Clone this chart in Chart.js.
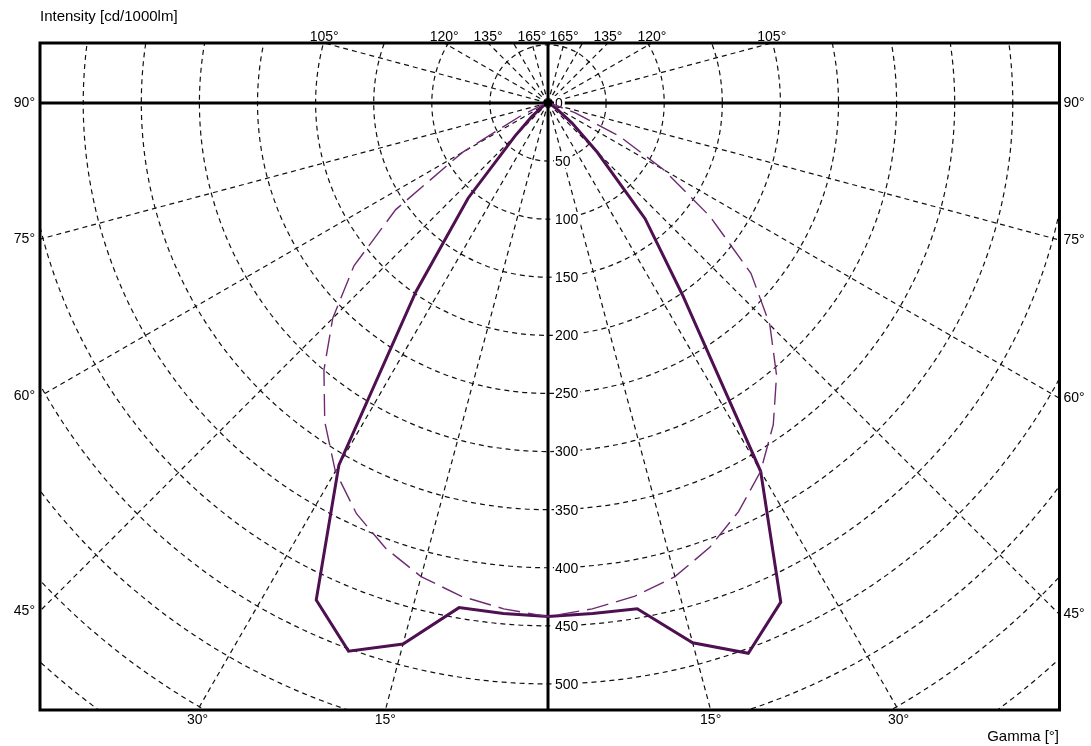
<!DOCTYPE html>
<html>
<head>
<meta charset="utf-8">
<script src="https://cdn.jsdelivr.net/npm/chart.js@4.4.1/dist/chart.umd.min.js"></script>
<style>
  html, body { margin: 0; padding: 0; background: #fff; }
  #wrap { width: 1091px; height: 746px; }
</style>
</head>
<body>
<div id="wrap"><canvas id="chart" width="1091" height="746"></canvas></div>
<script>
// Gamma angles (degrees from nadir) and intensities in cd/1000lm
const gammaAngles = [0, 5, 10, 15, 20, 25, 30, 35, 40, 45, 50, 55, 60, 65, 70, 75, 80, 85, 90];
const intensityC0 = [442, 441, 442, 481, 504, 474, 366, 202, 130, 60, 27, 10, 4, 1, 0, 0, 0, 0, 0];
const intensityC180 = [442, 441, 441, 482, 502, 472, 360, 198, 107, 40, 18, 7, 3, 1, 0, 0, 0, 0, 0];
const intensityC90 = [442, 437, 431, 422, 407, 388, 366, 338, 306, 270, 228, 170, 115, 68, 25, 5, 0, 0, 0];
const intensityC270 = [442, 437, 431, 422, 408, 390, 366, 335, 300, 262, 218, 160, 85, 25, 5, 0, 0, 0, 0];

// grid
const ringValues = [50, 100, 150, 200, 250, 300, 350, 400, 450, 500, 550, 600, 650, 700];
const ringLabels = ['0', '50', '100', '150', '200', '250', '300', '350', '400', '450', '500'];
const spokeAngles = [15, 30, 45, 60, 75, 105, 120, 135, 150, 165];
const sideAngles = [90, 75, 60, 45];
const bottomAngles = [30, 15];
const topAngles = [105, 120, 135, 165];

const rad = d => d * Math.PI / 180;
// side: +1 right half, -1 left half
const toXY = (g, r, side) => ({ x: side * r * Math.sin(rad(g)), y: -r * Math.cos(rad(g)) });

function halfCurve(leftVals, rightVals) {
  const pts = [];
  for (let i = gammaAngles.length - 1; i >= 0; i--) pts.push(toXY(gammaAngles[i], leftVals[i], -1));
  for (let i = 1; i < gammaAngles.length; i++) pts.push(toXY(gammaAngles[i], rightVals[i], 1));
  return pts;
}

const FONT = '14px "Liberation Sans", Arial, sans-serif';
const TITLE_FONT = '15px "Liberation Sans", Arial, sans-serif';

const polarGrid = {
  id: 'polarGrid',
  beforeDatasetsDraw(chart) {
    const { ctx, chartArea: a, scales: { x, y } } = chart;
    const cx = x.getPixelForValue(0), cy = y.getPixelForValue(0);
    const k = x.getPixelForValue(100) - cx;
    ctx.save();
    ctx.beginPath();
    ctx.rect(a.left, a.top, a.right - a.left, a.bottom - a.top);
    ctx.clip();
    ctx.strokeStyle = '#111';
    ctx.lineWidth = 1.2;
    ctx.setLineDash([5, 4]);
    ringValues.forEach(v => {
      ctx.beginPath();
      ctx.arc(cx, cy, v * k / 100, 0, Math.PI * 2);
      ctx.stroke();
    });
    const far = 1200;
    spokeAngles.forEach(g => {
      [-1, 1].forEach(s => {
        const p = toXY(g, far, s);
        ctx.beginPath();
        ctx.moveTo(cx, cy);
        ctx.lineTo(x.getPixelForValue(p.x), y.getPixelForValue(p.y));
        ctx.stroke();
      });
    });
    ctx.setLineDash([]);
    ctx.strokeStyle = '#000';
    ctx.lineWidth = 3;
    ctx.beginPath();
    ctx.moveTo(a.left, cy); ctx.lineTo(a.right, cy);
    ctx.moveTo(cx, a.top); ctx.lineTo(cx, a.bottom);
    ctx.stroke();
    // ring value labels
    ctx.font = FONT;
    ctx.textAlign = 'left';
    ctx.textBaseline = 'middle';
    ringLabels.forEach(t => {
      const py = y.getPixelForValue(-Number(t));
      const w = ctx.measureText(t).width;
      ctx.fillStyle = '#fff';
      ctx.fillRect(cx + 6, py - 7, w + 3, 14);
      ctx.fillStyle = '#000';
      ctx.fillText(t, cx + 7, py + 1);
    });
    ctx.restore();
  },
  afterDatasetsDraw(chart) {
    const { ctx, chartArea: a, scales: { x, y } } = chart;
    const cx = x.getPixelForValue(0), cy = y.getPixelForValue(0);
    ctx.save();
    ctx.fillStyle = '#000';
    ctx.fillRect(cx - 4, cy - 3, 8, 6);
    ctx.strokeStyle = '#000';
    ctx.lineWidth = 3;
    ctx.strokeRect(a.left, a.top, a.right - a.left, a.bottom - a.top);
    ctx.font = FONT;
    ctx.fillStyle = '#000';
    // side labels
    ctx.textBaseline = 'middle';
    sideAngles.forEach(g => {
      const t = g + '°';
      const yl = x.min * Math.cos(rad(g)) / Math.sin(rad(g));
      const yr = -x.max * Math.cos(rad(g)) / Math.sin(rad(g));
      ctx.textAlign = 'right';
      ctx.fillText(t, a.left - 5, y.getPixelForValue(yl));
      ctx.textAlign = 'left';
      ctx.fillText(t, a.right + 4, y.getPixelForValue(yr));
    });
    // bottom labels
    ctx.textAlign = 'center';
    ctx.textBaseline = 'top';
    bottomAngles.forEach(g => {
      const t = -y.min / Math.cos(rad(g));
      [-1, 1].forEach(s => {
        ctx.fillText(g + '°', x.getPixelForValue(s * t * Math.sin(rad(g))), a.bottom + 3);
      });
    });
    // top labels
    ctx.textBaseline = 'bottom';
    topAngles.forEach(g => {
      const t = y.max / -Math.cos(rad(g));
      [-1, 1].forEach(s => {
        ctx.fillText(g + '°', x.getPixelForValue(s * t * Math.sin(rad(g))), a.top + 1);
      });
    });
    // titles
    ctx.font = TITLE_FONT;
    ctx.textAlign = 'left';
    ctx.textBaseline = 'middle';
    ctx.fillText('Intensity [cd/1000lm]', 40, 17);
    ctx.textAlign = 'right';
    ctx.fillText('Gamma [°]', 1059, 737);
    ctx.restore();
  }
};

new Chart(document.getElementById('chart').getContext('2d'), {
  type: 'scatter',
  data: {
    datasets: [
      {
        label: 'C90 - C270',
        data: halfCurve(intensityC270, intensityC90),
        showLine: true,
        borderColor: '#6e2a72',
        borderWidth: 1.4,
        borderDash: [22, 8],
        pointRadius: 0,
        tension: 0,
      },
      {
        label: 'C0 - C180',
        data: halfCurve(intensityC180, intensityC0),
        showLine: true,
        borderColor: '#4e1050',
        borderWidth: 3,
        pointRadius: 0,
        tension: 0,
      },
    ],
  },
  options: {
    responsive: false,
    animation: false,
    layout: { padding: { left: 40, right: 31.5, top: 43, bottom: 36 } },
    plugins: { legend: { display: false }, tooltip: { enabled: false } },
    scales: {
      x: { type: 'linear', min: -437.2, max: 440.2, display: false },
      y: { type: 'linear', min: -522.4, max: 51.6, display: false },
    },
  },
  plugins: [polarGrid],
});
</script>
</body>
</html>
